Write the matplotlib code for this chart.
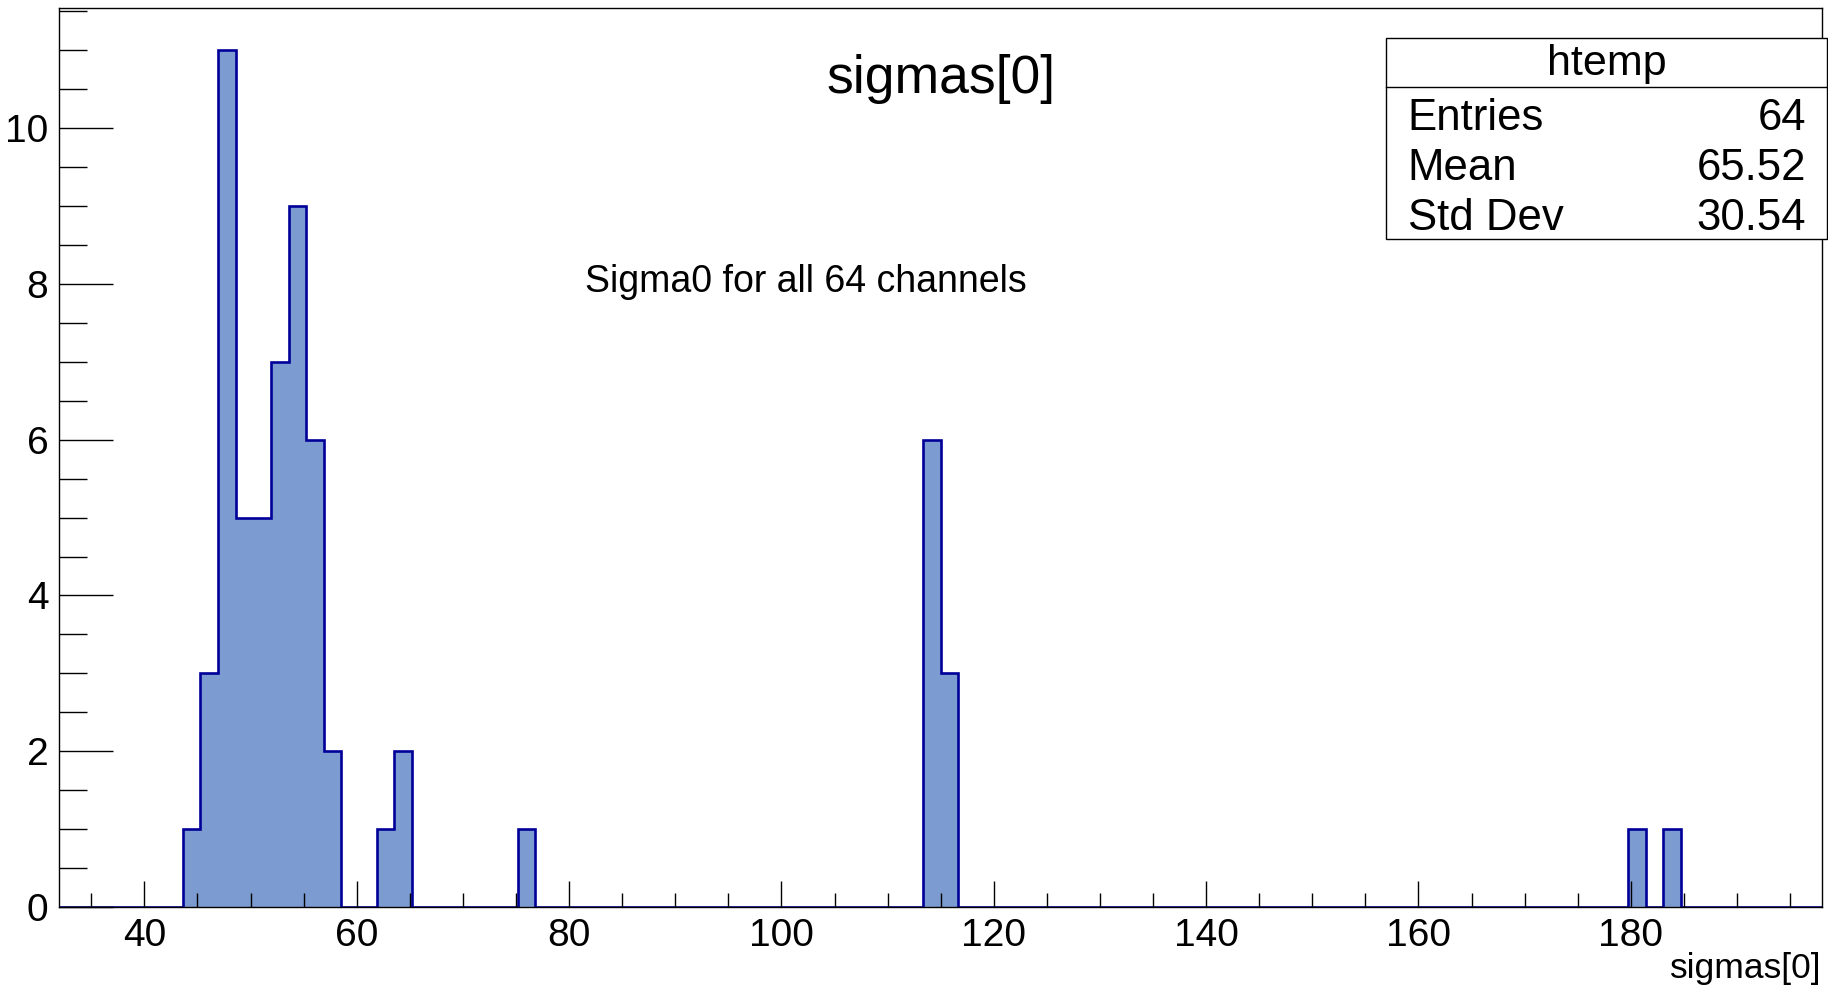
import numpy as np
import matplotlib
matplotlib.use('Agg')
import matplotlib.pyplot as plt
from matplotlib.patches import Rectangle
from matplotlib.lines import Line2D
from matplotlib.ticker import MultipleLocator

# histogram htemp: 100 bins between x_min and x_max
x_min, x_max, n_bins = 32.0, 198.0, 100
filled_bins = [7, 8, 9, 10, 11, 12, 13, 14, 15, 18, 19, 26, 49, 50, 89, 91]
bin_counts = [1, 3, 11, 5, 5, 7, 9, 6, 2, 1, 2, 1, 6, 3, 1, 1]

stat_names = ['Entries', 'Mean', 'Std Dev']
stat_values = ['64', '65.52', '30.54']

title = 'sigmas[0]'
x_label = 'sigmas[0]'
note = 'Sigma0 for all 64 channels'

FILL = '#7b9bd1'
LINE = '#000099'

plt.rcParams['font.family'] = ['Liberation Sans', 'DejaVu Sans']

edges = np.linspace(x_min, x_max, n_bins + 1)
counts = np.zeros(n_bins)
counts[filled_bins] = bin_counts

fig = plt.figure(figsize=(18.28, 9.89), dpi=100)
ax = fig.add_axes([0.0325, 0.0829, 0.9642, 0.9095])

ax.stairs(counts, edges, fill=True, color=FILL, linewidth=0)
ax.stairs(counts, edges, baseline=0, color=LINE, linewidth=1.9)

ax.set_xlim(x_min, x_max)
ax.set_ylim(0, counts.max() * 1.05)

ax.xaxis.set_major_locator(MultipleLocator(20))
ax.xaxis.set_minor_locator(MultipleLocator(5))
ax.yaxis.set_major_locator(MultipleLocator(2))
ax.yaxis.set_minor_locator(MultipleLocator(0.5))
ax.tick_params(axis='x', which='major', direction='in', length=19, width=1,
               labelsize=28, pad=8)
ax.tick_params(axis='x', which='minor', direction='in', length=10, width=1)
ax.tick_params(axis='y', which='major', direction='in', length=39, width=1,
               labelsize=28, pad=8)
ax.tick_params(axis='y', which='minor', direction='in', length=20, width=1)
for spine in ax.spines.values():
    spine.set_linewidth(1)

fig.text(0.515, 0.920, title, ha='center', va='center', fontsize=38.5)
fig.text(0.9967, 0.021, x_label, ha='right', va='center', fontsize=25.5)
ax.text(81.5, 8.02, note, ha='left', va='center', fontsize=27)

# stats box
bx0, bx1, by0, by1, bdiv = 0.7582, 0.9995, 0.758, 0.9611, 0.912
fig.patches.append(Rectangle((bx0, by0), bx1 - bx0, by1 - by0, transform=fig.transFigure,
                             facecolor='white', edgecolor='black', linewidth=1, zorder=5))
fig.lines.append(Line2D([bx0, bx1], [bdiv, bdiv], transform=fig.transFigure,
                        color='black', linewidth=1, zorder=6))
fig.text((bx0 + bx1) / 2, 0.935, 'htemp', ha='center', va='center', fontsize=31, zorder=7)
row_y = [0.880, 0.830, 0.779]
for name, value, y in zip(stat_names, stat_values, row_y):
    fig.text(0.770, y, name, ha='left', va='center', fontsize=31.5, zorder=7)
    fig.text(0.988, y, value, ha='right', va='center', fontsize=31.5, zorder=7)

fig.savefig('out.png', dpi=100)
